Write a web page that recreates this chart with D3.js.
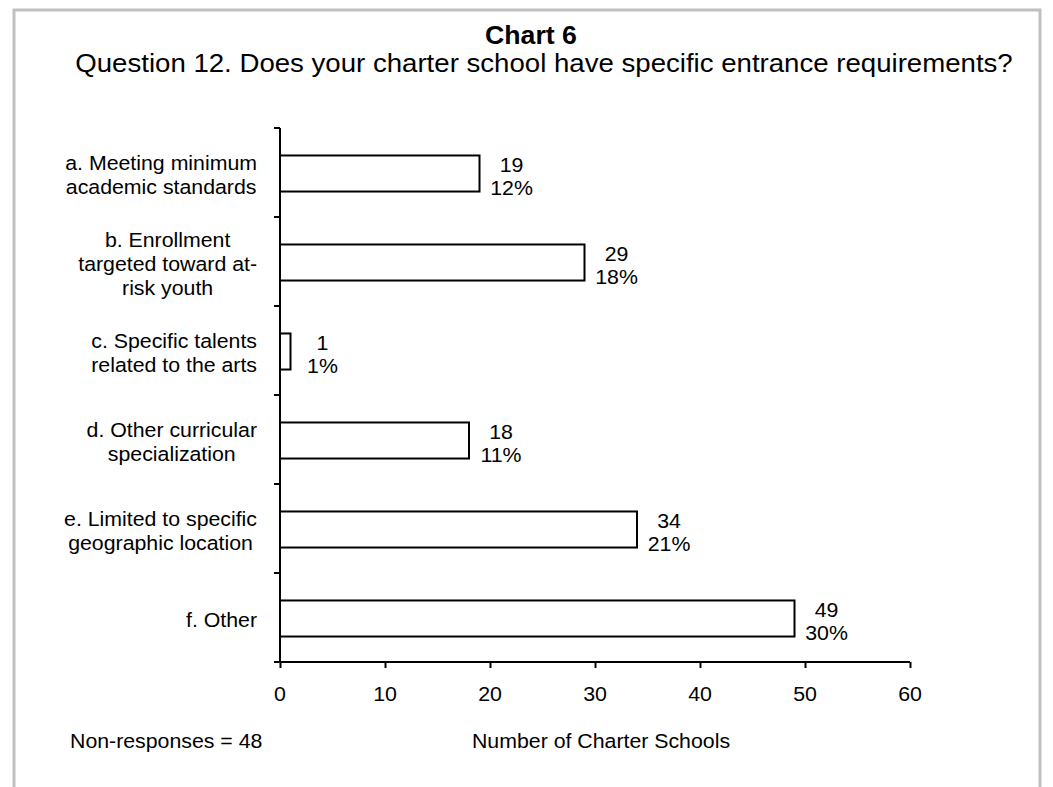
<!DOCTYPE html>
<html>
<head>
<meta charset="utf-8">
<script src="https://cdn.jsdelivr.net/npm/d3@7"></script>
<style>
  html, body { margin: 0; padding: 0; background: #ffffff; }
  svg { display: block; }
  text { font-family: "Liberation Sans", Arial, Helvetica, sans-serif; fill: #000; }
</style>
</head>
<body>
<svg id="chart" width="1053" height="787"></svg>
<script>
// Survey responses: entrance requirements reported by charter schools
const categories = ["a", "b", "c", "d", "e", "f"];
const categoryLabels = [
  ["a. Meeting minimum", "academic standards"],
  ["b. Enrollment", "targeted toward at-", "risk youth"],
  ["c. Specific talents", "related to the arts"],
  ["d. Other curricular", "specialization"],
  ["e. Limited to specific", "geographic location"],
  ["f. Other"]
];
const counts = [19, 29, 1, 18, 34, 49];
const percents = ["12%", "18%", "1%", "11%", "21%", "30%"];
const xTicks = [0, 10, 20, 30, 40, 50, 60];

const titleText = "Chart 6";
const subtitleText = "Question 12. Does your charter school have specific entrance requirements?";
const xAxisTitle = "Number of Charter Schools";
const footnoteText = "Non-responses = 48";

const stretch = 1.05;           // slight horizontal stretch of the lettering
const fs = 20.3;                // body text size
const plot = { left: 280, right: 910, top: 128, bottom: 662 };

const svg = d3.select("#chart");

// frame
svg.append("rect")
  .attr("x", 14).attr("y", 10)
  .attr("width", 1026).attr("height", 800)
  .attr("fill", "#fff")
  .attr("stroke", "#c0c0c0")
  .attr("stroke-width", 3);

function label(parent, x, y, str, size, anchor, weight) {
  return parent.append("text")
    .attr("transform", `translate(${x},${y}) scale(${stretch},1)`)
    .attr("text-anchor", anchor || "middle")
    .attr("font-size", size)
    .attr("font-weight", weight || "normal")
    .text(str);
}

// titles
label(svg, 531, 44, titleText, 25.4, "middle", "bold");
label(svg, 544, 72, subtitleText, 26.3, "middle");

const x = d3.scaleLinear().domain([0, 60]).range([plot.left, plot.right]);
const y = d3.scaleBand().domain(categories).range([plot.top, plot.bottom]).paddingInner(0).paddingOuter(0);
const barFrac = 0.405;
const barH = y.bandwidth() * barFrac;

// bars
svg.append("g").selectAll("rect")
  .data(categories)
  .join("rect")
  .attr("x", x(0))
  .attr("y", (d) => y(d) + (y.bandwidth() - barH) / 2 + 1)
  .attr("width", (d, i) => x(counts[i]) - x(0))
  .attr("height", barH)
  .attr("fill", "#fff")
  .attr("stroke", "#000")
  .attr("stroke-width", 2);

// value labels: count over percentage
const valG = svg.append("g");
categories.forEach((c, i) => {
  const cx = x(counts[i]) + 32;
  const cy = y(c) + y.bandwidth() / 2 + 1;
  label(valG, cx, cy - 2, String(counts[i]), fs, "middle");
  label(valG, cx, cy + 21.5, percents[i], fs, "middle");
});

// y axis with ticks at category boundaries
const yAxis = svg.append("g").attr("stroke", "#000").attr("stroke-width", 2);
yAxis.append("line")
  .attr("x1", plot.left).attr("x2", plot.left)
  .attr("y1", plot.top).attr("y2", plot.bottom);
const edges = categories.map((c) => y(c)).concat([plot.bottom]);
yAxis.selectAll("line.tick")
  .data(edges)
  .join("line")
  .attr("class", "tick")
  .attr("x1", plot.left - 6).attr("x2", plot.left)
  .attr("y1", (d) => d).attr("y2", (d) => d);

// x axis
const xAxisG = svg.append("g")
  .attr("transform", `translate(0,${plot.bottom})`)
  .call(d3.axisBottom(x).tickValues(xTicks).tickSize(6).tickSizeOuter(0).tickFormat(""));
xAxisG.select(".domain").attr("stroke", "#000").attr("stroke-width", 2)
  .attr("d", `M${plot.left - 6},0H${plot.right}`);
xAxisG.selectAll(".tick line").attr("stroke", "#000").attr("stroke-width", 2);

const tickG = svg.append("g");
xTicks.forEach((t) => label(tickG, x(t), 701, String(t), fs, "middle"));

// category labels, centred lines, blocks right-aligned against the axis
const catG = svg.append("g");
const lineGap = 24;
const labelRight = 257;
categories.forEach((c, i) => {
  const lines = categoryLabels[i];
  const cy = y(c) + y.bandwidth() / 2;
  const ys = lines.map((ln, k) => cy + (k - (lines.length - 1) / 2) * lineGap + 9);
  const nodes = lines.map((ln, k) => label(catG, 0, ys[k], ln, fs, "middle"));
  const maxW = d3.max(nodes, (n) => n.node().getComputedTextLength() * stretch);
  const mid = labelRight - maxW / 2;
  nodes.forEach((n, k) => {
    n.attr("transform", `translate(${mid},${ys[k]}) scale(${stretch},1)`);
  });
});

// footer texts
label(svg, 70, 748, footnoteText, fs, "start");
label(svg, 601, 748, xAxisTitle, fs, "middle");
</script>
</body>
</html>
